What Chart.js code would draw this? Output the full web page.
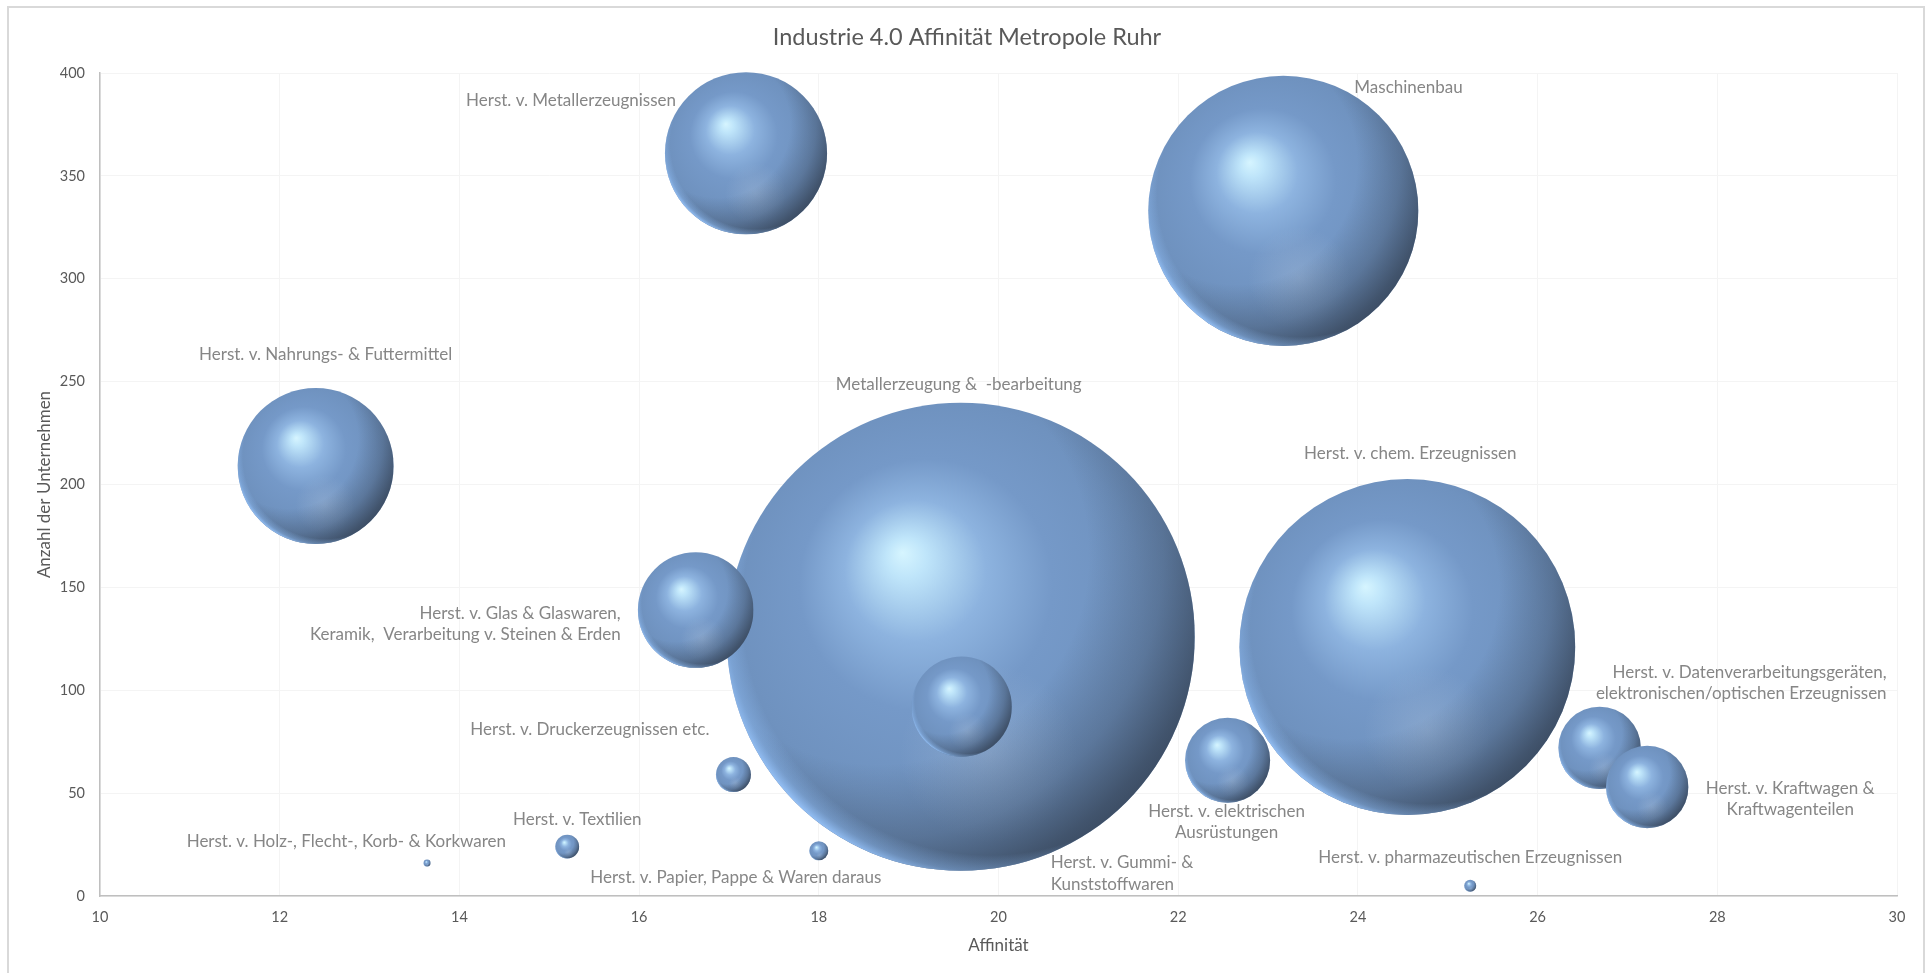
<!DOCTYPE html>
<html lang="de">
<head>
<meta charset="utf-8">
<title>Industrie 4.0 Affinität Metropole Ruhr</title>
<script src="https://cdn.jsdelivr.net/npm/chart.js@4.4.1/dist/chart.umd.min.js"></script>
<style>
  html, body { margin: 0; padding: 0; background: #fff; }
  #wrap { width: 1930px; height: 973px; }
</style>
</head>
<body>
<div id="wrap"><canvas id="bubbleChart" width="1930" height="973"></canvas></div>
<script>
// Branchen, sorted by bubble size (largest first, so small ones are drawn on top)
const branchen = [
  "Metallerzeugung &  -bearbeitung",
  "Herst. v. chem. Erzeugnissen",
  "Maschinenbau",
  "Herst. v. Metallerzeugnissen",
  "Herst. v. Nahrungs- & Futtermittel",
  "Herst. v. Glas & Glaswaren,\nKeramik,  Verarbeitung v. Steinen & Erden",
  "Herst. v. Gummi- &\nKunststoffwaren",
  "Herst. v. elektrischen\nAusrüstungen",
  "Herst. v. Datenverarbeitungsgeräten,\nelektronischen/optischen Erzeugnissen",
  "Herst. v. Kraftwagen &\nKraftwagenteilen",
  "Herst. v. Druckerzeugnissen etc.",
  "Herst. v. Textilien",
  "Herst. v. Papier, Pappe & Waren daraus",
  "Herst. v. pharmazeutischen Erzeugnissen",
  "Herst. v. Holz-, Flecht-, Korb- & Korkwaren"
];
const affinitaet = [19.58, 24.55, 23.17, 17.19, 12.40, 16.63, 19.59, 22.55, 26.69, 27.22, 17.05, 15.20, 18.00, 25.25, 13.64];
const unternehmen = [126, 121, 333, 361, 209, 139, 92, 66, 72, 53, 59, 24, 22, 5, 16];
// relative bubble size (area)
const bubbleSize = [1000, 515, 333, 120, 111, 61, 46, 33, 31, 31, 5.6, 2.6, 1.65, 0.66, 0.22];

const xTicks = { min: 10, max: 30, step: 2 };
const yTicks = { min: 0, max: 400, step: 50 };

const chartTitle = "Industrie 4.0 Affinität Metropole Ruhr";

// where each data label sits relative to its bubble (px)
const labelPlacement = [
  { align: "center", dx: -2, dy: -252 },
  { align: "center", dx: 3, dy: -194 },
  { align: "left", dx: 71, dy: -123 },
  { align: "right", dx: -70, dy: -53 },
  { align: "center", dx: 10, dy: -111 },
  { align: "right", dx: -75, dy: 14 },
  { align: "left", dx: 89, dy: 167 },
  { align: "center", dx: -1, dy: 62 },
  { align: "right", dx: 287, dy: -65 },
  { align: "center", dx: 143, dy: 12 },
  { align: "right", dx: -24, dy: -45 },
  { align: "center", dx: 10, dy: -27 },
  { align: "center", dx: -83, dy: 27 },
  { align: "center", dx: 0, dy: -28 },
  { align: "right", dx: 79, dy: -22 }
];

const FONT = "Lato, 'Open Sans', sans-serif";
const LINE_H = 21.5;
const MAX_R = 234; // px radius of the largest bubble
const maxSize = Math.max(...bubbleSize);

function baseGradient(c, cx, cy, r) {
  const g = c.createRadialGradient(cx - 0.25 * r, cy - 0.36 * r, 0, cx - 0.05 * r, cy - 0.08 * r, 1.08 * r);
  g.addColorStop(0, "#d6f5ff");
  g.addColorStop(0.08, "#bfe5fa");
  g.addColorStop(0.28, "#8db3df");
  g.addColorStop(0.5, "#7599c8");
  g.addColorStop(0.8, "#6f92bf");
  g.addColorStop(1, "#6889b3");
  return g;
}

// extra light/shadow layers painted inside the circle
function shadeSphere(c, cx, cy, r) {
  c.save();
  c.beginPath();
  c.arc(cx, cy, r, 0, Math.PI * 2);
  c.clip();

  // soft reflection low in the ball
  let g = c.createRadialGradient(cx + 0.12 * r, cy + 0.5 * r, 0, cx + 0.12 * r, cy + 0.5 * r, 0.38 * r);
  g.addColorStop(0, "rgba(175,195,220,0.35)");
  g.addColorStop(1, "rgba(175,195,220,0)");
  c.fillStyle = g;
  c.fillRect(cx - r, cy - r, 2 * r, 2 * r);

  // shadow towards right / bottom
  g = c.createRadialGradient(cx - 0.35 * r, cy - 0.35 * r, 0, cx - 0.35 * r, cy - 0.35 * r, 1.6 * r);
  g.addColorStop(0, "rgba(50,62,80,0)");
  g.addColorStop(0.56, "rgba(50,62,80,0)");
  g.addColorStop(0.76, "rgba(50,62,80,0.32)");
  g.addColorStop(0.9, "rgba(45,56,72,0.66)");
  g.addColorStop(1, "rgba(40,50,65,0.8)");
  c.fillStyle = g;
  c.fillRect(cx - r, cy - r, 2 * r, 2 * r);

  // light rim lower left
  g = c.createRadialGradient(cx + 0.12 * r, cy - 0.12 * r, 0, cx + 0.12 * r, cy - 0.12 * r, 1.17 * r);
  g.addColorStop(0, "rgba(140,185,240,0)");
  g.addColorStop(0.9, "rgba(140,185,240,0)");
  g.addColorStop(0.96, "rgba(140,185,240,0.45)");
  g.addColorStop(1, "rgba(148,192,246,1)");
  c.fillStyle = g;
  c.fillRect(cx - r, cy - r, 2 * r, 2 * r);

  c.restore();
}

const frame = {
  id: "frame",
  beforeDraw(chart) {
    const c = chart.ctx;
    c.save();
    c.fillStyle = "#fff";
    c.fillRect(0, 0, chart.width, chart.height);
    c.strokeStyle = "#d9d9d9";
    c.lineWidth = 2;
    c.strokeRect(8, 7, 1916, 980);
    c.fillStyle = "#595959";
    c.font = "23.5px " + FONT;
    c.textAlign = "center";
    c.textBaseline = "middle";
    c.fillText(chartTitle, 967, 37);
    c.restore();
  }
};

// 3D look: the library places and draws each bubble, then it gets its shading
const sphereShading = {
  id: "sphereShading",
  beforeDatasetDraw(chart, args) {
    const c = chart.ctx;
    args.meta.data.forEach((el) => {
      const r = el.options.radius;
      el.options = Object.assign({}, el.options, {
        backgroundColor: baseGradient(c, el.x, el.y, r),
        borderWidth: 0,
      });
      el.draw(c, chart.chartArea);
      shadeSphere(c, el.x, el.y, r);
    });
    return false;
  }
};

const bubbleLabels = {
  id: "bubbleLabels",
  afterDatasetsDraw(chart) {
    const c = chart.ctx;
    const meta = chart.getDatasetMeta(0);
    c.save();
    c.font = "17px " + FONT;
    c.fillStyle = "#868686";
    c.textBaseline = "middle";
    meta.data.forEach((el, i) => {
      const p = labelPlacement[i];
      const lines = branchen[i].split("\n");
      c.textAlign = p.align;
      const top = el.y + p.dy - ((lines.length - 1) * LINE_H) / 2;
      lines.forEach((line, k) => c.fillText(line, el.x + p.dx, top + k * LINE_H));
    });
    c.restore();
  }
};

const points = affinitaet.map((x, i) => ({
  x,
  y: unternehmen[i],
  r: MAX_R * Math.sqrt(bubbleSize[i] / maxSize),
}));

new Chart(document.getElementById("bubbleChart").getContext("2d"), {
  type: "bubble",
  data: {
    datasets: [
      {
        label: "Branchen",
        data: points,
        backgroundColor: "#7599c8",
        borderColor: "rgba(0,0,0,0)",
        borderWidth: 0,
      },
    ],
  },
  options: {
    responsive: false,
    animation: false,
    events: [],
    layout: { autoPadding: false, padding: { top: 73, left: 0, right: 33, bottom: 0 } },
    plugins: {
      legend: { display: false },
      tooltip: { enabled: false },
      title: { display: false },
    },
    scales: {
      x: {
        type: "linear",
        min: xTicks.min,
        max: xTicks.max,
        afterFit: (scale) => { scale.height = 77; },
        ticks: { stepSize: xTicks.step, color: "#595959", padding: 13, font: { family: FONT, size: 14.5 } },
        grid: { color: "#f4f4f4", drawTicks: false },
        border: { color: "#bfbfbf", width: 1.5 },
        title: {
          display: true,
          text: "Affinität",
          color: "#595959",
          font: { family: FONT, size: 17 },
          padding: { top: 0, bottom: 17 },
        },
      },
      y: {
        type: "linear",
        min: yTicks.min,
        max: yTicks.max,
        afterFit: (scale) => { scale.width = 100; },
        ticks: { stepSize: yTicks.step, color: "#595959", padding: 15, font: { family: FONT, size: 14.5 } },
        grid: { color: "#f4f4f4", drawTicks: false },
        border: { color: "#bfbfbf", width: 1.5 },
        title: {
          display: true,
          text: "Anzahl der Unternehmen",
          color: "#595959",
          font: { family: FONT, size: 17 },
          padding: { top: 34, bottom: 0 },
        },
      },
    },
  },
  plugins: [frame, sphereShading, bubbleLabels],
});
</script>
</body>
</html>
